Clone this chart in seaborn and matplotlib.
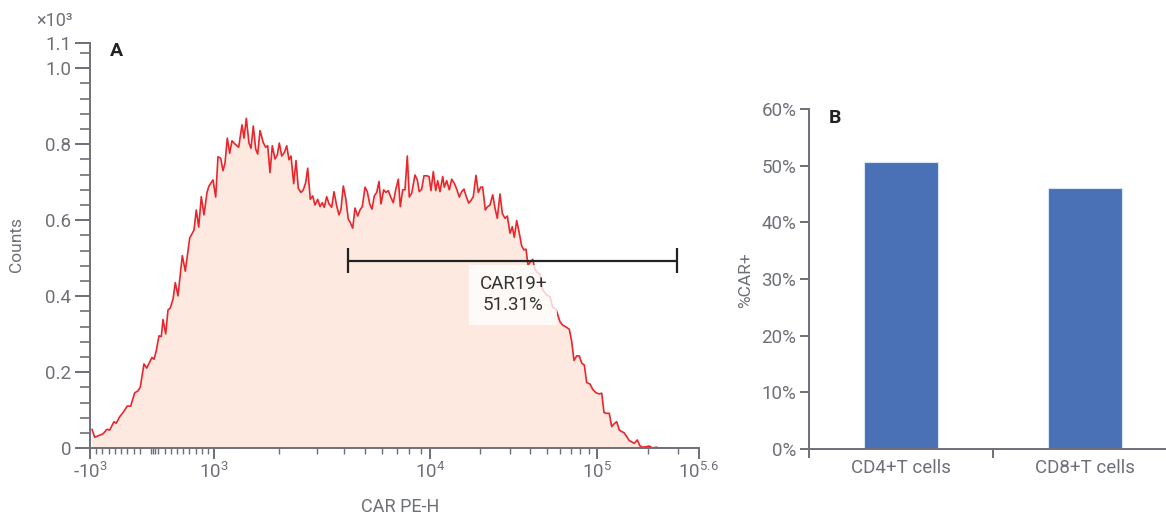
import numpy as np
import pandas as pd
import matplotlib
matplotlib.use("Agg")
import matplotlib.pyplot as plt
import seaborn as sns
from matplotlib.ticker import FixedLocator, FixedFormatter, NullFormatter

# ---------------- data ----------------
# Panel A: CAR PE-H histogram, bins given as logicle display channel
channel = [
    2.0, 4.7, 13.0, 17.0, 19.7, 24.0, 26.3, 29.7, 33.0, 37.3,
    40.7, 44.7, 48.0, 50.3, 54.0, 56.7, 62.0, 64.0, 66.3, 69.0,
    71.3, 73.0, 75.7, 78.0, 80.3, 83.0, 85.3, 88.0, 92.3, 95.3,
    99.7, 104.0, 106.3, 108.7, 111.3, 114.0, 117.0, 119.0, 123.0, 125.7,
    128.0, 130.7, 133.0, 135.0, 137.3, 139.7, 142.0, 144.7, 148.7, 152.0,
    154.0, 156.3, 159.0, 161.0, 163.3, 165.7, 167.7, 170.0, 173.3, 175.7,
    177.7, 180.0, 182.3, 185.0, 187.3, 189.3, 191.7, 194.3, 196.7, 199.0,
    201.0, 203.7, 206.0, 208.3, 211.0, 213.3, 215.7, 217.7, 220.3, 222.7,
    225.0, 227.7, 230.0, 232.3, 234.3, 236.7, 239.0, 241.7, 244.0, 246.7,
    249.0, 251.0, 253.3, 255.7, 258.3, 260.3, 262.7, 265.0, 267.7, 270.0,
    272.3, 275.0, 277.3, 279.7, 282.0, 284.3, 286.7, 289.0, 291.0, 293.7,
    296.0, 298.3, 300.7, 303.3, 305.7, 308.3, 310.3, 312.7, 315.0, 317.3,
    319.3, 321.7, 325.0, 327.3, 329.3, 331.7, 334.0, 336.7, 339.0, 341.0,
    343.3, 345.7, 347.7, 350.0, 352.7, 354.3, 356.7, 359.3, 361.7, 364.3,
    366.7, 369.3, 371.7, 374.0, 376.0, 378.7, 381.0, 383.3, 386.0, 388.3,
    390.7, 392.7, 395.3, 397.7, 400.0, 402.7, 405.0, 407.3, 410.0, 412.3,
    415.0, 417.3, 420.0, 422.3, 424.3, 426.7, 429.0, 431.7, 434.0, 436.0,
    438.0, 440.7, 442.7, 445.0, 447.3, 450.0, 452.7, 456.7, 460.0, 462.7,
    466.0, 470.0, 472.7, 476.7, 479.3, 481.7, 484.0, 486.7, 489.3, 491.7,
    494.3, 496.7, 500.0, 502.7, 506.0, 509.3, 511.7, 514.0, 516.7, 519.3,
    521.7, 524.0, 526.7, 529.3, 531.7, 534.0, 536.7, 539.3, 541.7, 544.3,
    547.3, 550.0, 552.7, 556.0, 559.3, 562.7, 566.0, 570.0, 574.0, 576.7,
]
counts = [
    50, 29, 38, 50, 48, 70, 66, 83, 94, 111,
    111, 146, 151, 161, 222, 211, 239, 234, 257, 296,
    294, 339, 301, 364, 369, 392, 436, 401, 507, 466,
    553, 574, 627, 582, 662, 614, 673, 690, 706, 661,
    767, 763, 730, 750, 816, 776, 809, 801, 792, 851,
    816, 868, 803, 789, 848, 787, 774, 836, 804, 792,
    796, 725, 796, 761, 772, 803, 769, 778, 796, 759,
    769, 696, 757, 684, 673, 680, 699, 737, 655, 664,
    640, 655, 636, 646, 634, 662, 643, 634, 675, 638,
    614, 629, 690, 658, 603, 594, 579, 632, 611, 627,
    636, 687, 675, 643, 629, 664, 673, 702, 643, 680,
    673, 678, 661, 646, 680, 708, 636, 680, 680, 769,
    661, 671, 719, 706, 675, 682, 717, 717, 715, 678,
    728, 678, 704, 675, 715, 687, 704, 680, 708, 697,
    682, 661, 675, 682, 664, 645, 652, 662, 718, 673,
    687, 687, 627, 636, 640, 667, 632, 605, 669, 618,
    605, 611, 566, 583, 555, 599, 570, 532, 522, 524,
    482, 491, 497, 471, 462, 459, 417, 403, 399, 371,
    366, 333, 324, 318, 313, 281, 231, 243, 243, 224,
    219, 173, 169, 155, 146, 143, 145, 94, 92, 92,
    57, 64, 70, 48, 44, 41, 31, 20, 17, 13,
    22, 6, 3, 4, 6, 0, 3, 0, 1, 0,
]
gate = [4150, 297000]          # CAR PE-H gate limits
gate_level = 493               # counts
gate_label = "CAR19+\n51.31%"
gate_label_pos = (31500, 404)

x_major = [-1000, 1000, 1e4, 1e5, 10 ** 5.6]
x_major_labels = ["-$10^{3}$", "$10^{3}$", "$10^{4}$", "$10^{5}$", "$10^{5.6}$"]
y_major = [0, 0.2, 0.4, 0.6, 0.8, 1.0, 1.067]
y_major_labels = ["0", "0.2", "0.4", "0.6", "0.8", "1.0", "1.1"]

# Panel B
cells = ["CD4+T cells", "CD8+T cells"]
pct_car = [50.6, 46.1]
pct_ticks = [0, 10, 20, 30, 40, 50, 60]

# ---------------- logicle-like scale ----------------
LIN_MAX = 1000.0
LIN_CH = 124.3
LIN_SLOPE = LIN_CH / (2 * LIN_MAX)
DEC = np.array([3.0, 4.0, 5.0, 5.6])
DEC_CH = np.array([124.3, 340.4, 506.6, 608.5])
S_LAST = (DEC_CH[-1] - DEC_CH[-2]) / (DEC[-1] - DEC[-2])


def fwd(v):
    v = np.asarray(v, dtype=float)
    lin = LIN_CH / 2 + v * LIN_SLOPE
    lg = np.log10(np.maximum(v, LIN_MAX))
    lg_part = np.interp(lg, DEC, DEC_CH) + np.where(lg > DEC[-1], (lg - DEC[-1]) * S_LAST, 0.0)
    return np.where(v <= LIN_MAX, lin, lg_part)


def inv(c):
    c = np.asarray(c, dtype=float)
    lin = (c - LIN_CH / 2) / LIN_SLOPE
    cc = np.clip(c, LIN_CH, 2000)
    lg = np.interp(cc, DEC_CH, DEC) + np.where(cc > DEC_CH[-1], (cc - DEC_CH[-1]) / S_LAST, 0.0)
    return np.where(c <= LIN_CH, lin, 10 ** lg)


# ---------------- style ----------------
sns.set_theme(style="white")
plt.rcParams["font.family"] = ["Roboto", "DejaVu Sans"]
plt.rcParams["mathtext.fontset"] = "custom"
plt.rcParams["mathtext.rm"] = "Roboto"
plt.rcParams["mathtext.it"] = "Roboto:italic"
plt.rcParams["mathtext.bf"] = "Roboto:bold"
plt.rcParams["mathtext.default"] = "regular"

GRAY = "#6e7079"
RED = "#e8262b"
FILL = "#fde9e0"
BLUE = "#4a70b5"
DARK = "#222222"

fig = plt.figure(figsize=(11.66, 5.15), dpi=100)
W, H = 1166, 515

# ---------------- panel A ----------------
axA = fig.add_axes([90 / W, 1 - 448.3 / H, (698.5 - 90) / W, (448.3 - 42.7) / H])
axA.set_xscale("function", functions=(fwd, inv))

x_val = inv(np.array(channel))
y_val = np.array(counts) / 1000.0

axA.fill_between(x_val, y_val, 0, color=FILL, lw=0, zorder=1)
sns.lineplot(x=x_val, y=y_val, ax=axA, color=RED, linewidth=1.2,
             sort=False, estimator=None, zorder=2)

lvl = gate_level / 1000.0
axA.plot(gate, [lvl, lvl], color=DARK, lw=1.6, zorder=4, solid_capstyle="butt")
axA.vlines(gate, lvl - 0.033, lvl + 0.033, color=DARK, lw=1.6, zorder=4)
axA.text(gate_label_pos[0], gate_label_pos[1] / 1000.0, gate_label, ha="center", va="center",
         fontsize=13.5, color="#333333", linespacing=1.25, zorder=5,
         bbox=dict(boxstyle="square,pad=0.55", fc="white", ec="none", alpha=0.78))

axA.set_xlim(-1000, 10 ** 5.6)
axA.set_ylim(0, 1.067)

axA.xaxis.set_major_locator(FixedLocator(x_major))
axA.xaxis.set_major_formatter(FixedFormatter(x_major_labels))
x_minor = ([-v for v in range(900, 100, -100)] + [-25, 15, 50, 95] +
           list(range(200, 1000, 100)) +
           [m * 10 ** e for e in (3, 4) for m in range(2, 10)] + [2e5, 3e5])
axA.xaxis.set_minor_locator(FixedLocator(x_minor))
axA.xaxis.set_minor_formatter(NullFormatter())

axA.yaxis.set_major_locator(FixedLocator(y_major))
axA.yaxis.set_major_formatter(FixedFormatter(y_major_labels))
y_minor = [round(0.04 * k, 2) for k in range(1, 27) if k % 5 != 0]
axA.yaxis.set_minor_locator(FixedLocator(y_minor))
axA.yaxis.set_minor_formatter(NullFormatter())

axA.tick_params(axis="y", which="major", length=11, width=1.4, color=GRAY,
                labelcolor=GRAY, labelsize=13.5, pad=2.5, left=True)
axA.tick_params(axis="y", which="minor", length=7, width=1.2, color=GRAY, left=True)
axA.tick_params(axis="x", which="major", length=8, width=1.4, color=GRAY,
                labelcolor=GRAY, labelsize=13.5, pad=2, bottom=True)
axA.tick_params(axis="x", which="minor", length=4.5, width=1.0, color=GRAY, bottom=True)

for s in ("top", "right"):
    axA.spines[s].set_visible(False)
for s in ("left", "bottom"):
    axA.spines[s].set_color(GRAY)
    axA.spines[s].set_linewidth(1.4)
axA.set_xlabel("")
axA.set_ylabel("")

fig.text(17 / W, 1 - 245 / H, "Counts", rotation=90, ha="center", va="center",
         fontsize=12.5, color=GRAY)
fig.text(400 / W, 1 - 507 / H, "CAR PE-H", ha="center", va="center", fontsize=13, color=GRAY)
fig.text(73 / W, 1 - 21 / H, "×10³", ha="right", va="center", fontsize=13, color=GRAY)
fig.text(116.5 / W, 1 - 51 / H, "A", ha="center", va="center", fontsize=14,
         fontweight="bold", color=DARK)

# ---------------- panel B ----------------
axB = fig.add_axes([809 / W, 1 - 449 / H, (W - 809) / W, (449 - 109) / H])
df = pd.DataFrame({"cell": cells, "pct": pct_car})
sns.barplot(data=df, x="cell", y="pct", ax=axB, color=BLUE, saturation=1,
            width=0.4, edgecolor="#dbe4f3", linewidth=0.8)
axB.set_xlim(-0.5, 1.44)
axB.set_ylim(0, 60)
axB.xaxis.set_major_locator(FixedLocator([0, 1]))
axB.xaxis.set_major_formatter(FixedFormatter(cells))
axB.xaxis.set_minor_locator(FixedLocator([-0.5, 0.5]))
axB.yaxis.set_major_locator(FixedLocator(pct_ticks))
axB.yaxis.set_major_formatter(FixedFormatter([f"{t}%" for t in pct_ticks]))
axB.tick_params(axis="x", which="major", length=0, labelcolor=GRAY, labelsize=13.5, pad=7)
axB.tick_params(axis="x", which="minor", length=6.3, width=1.4, color=GRAY, bottom=True)
axB.tick_params(axis="y", which="major", length=6.5, width=1.4, color=GRAY,
                labelcolor=GRAY, labelsize=13.5, pad=2.5, left=True)
for s in ("top", "right"):
    axB.spines[s].set_visible(False)
for s in ("left", "bottom"):
    axB.spines[s].set_color(GRAY)
    axB.spines[s].set_linewidth(1.4)
axB.set_xlabel("")
axB.set_ylabel("")
fig.text(745.5 / W, 1 - 280 / H, "%CAR+", rotation=90, ha="center", va="center",
         fontsize=12.5, color=GRAY)
fig.text(834.5 / W, 1 - 118.3 / H, "B", ha="center", va="center", fontsize=14,
         fontweight="bold", color=DARK)

fig.savefig("out.png", dpi=100)
